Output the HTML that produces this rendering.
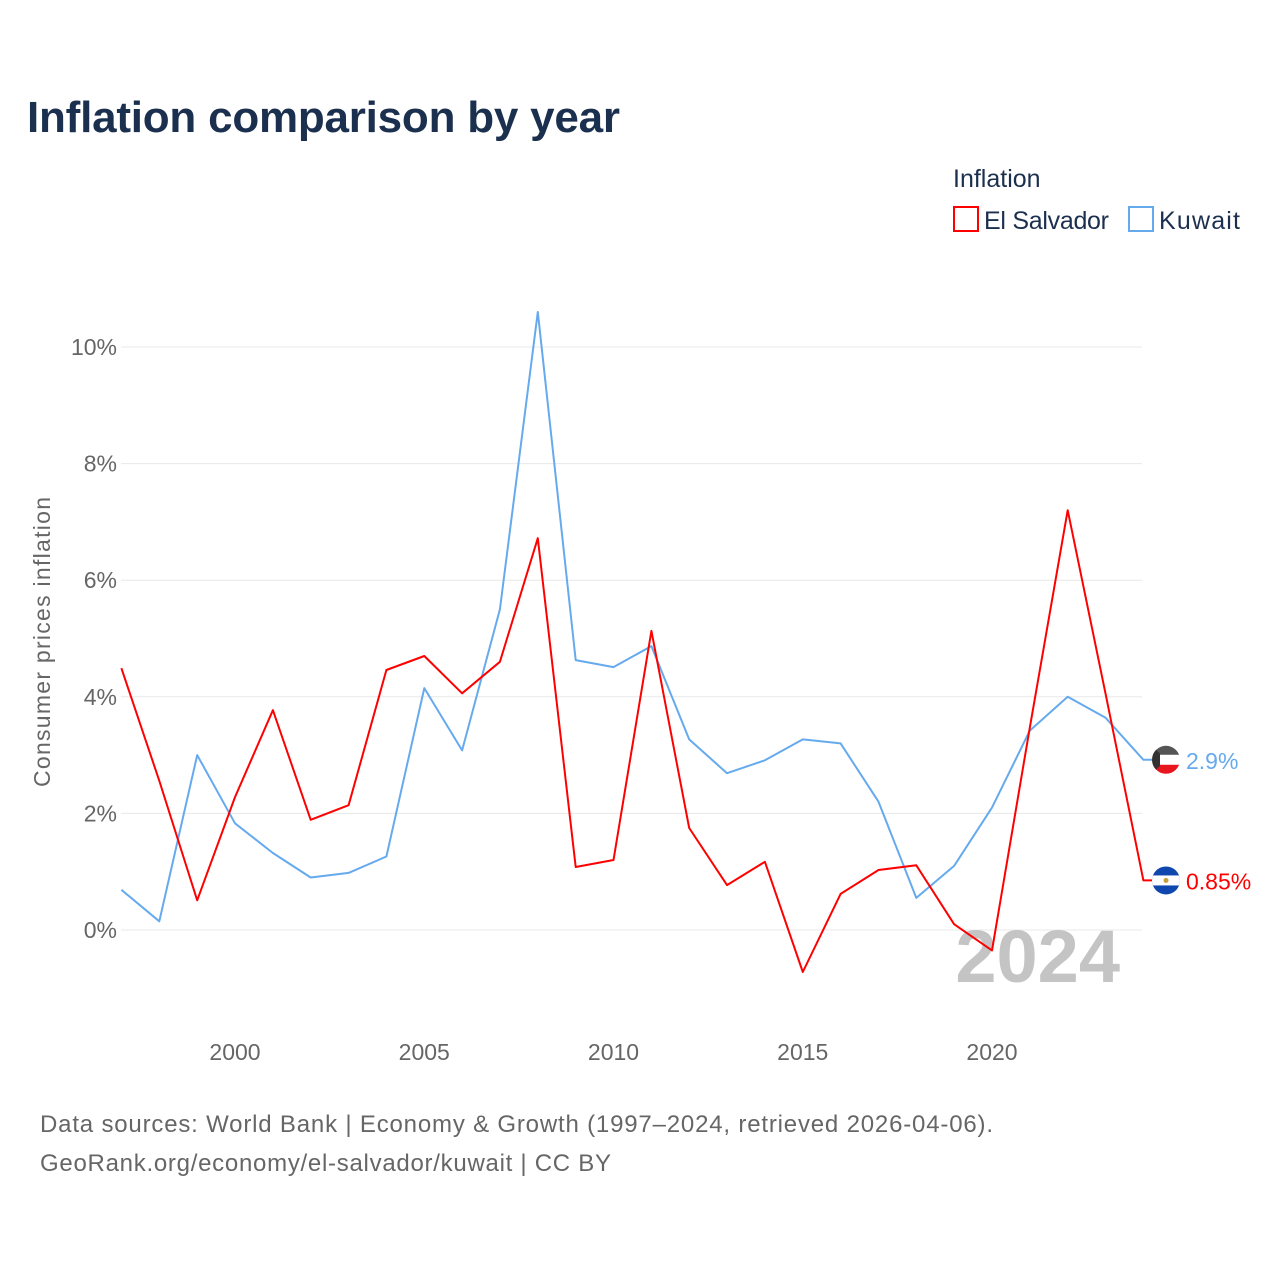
<!DOCTYPE html>
<html><head><meta charset="utf-8">
<style>
body{margin:0;background:#fff;font-family:"Liberation Sans",sans-serif;}
#wrap{position:relative;width:1280px;height:1280px;overflow:hidden;}
</style></head>
<body>
<div id="wrap">
<svg id="chart" width="1280" height="1280">
<defs>
<clipPath id="fk"><circle cx="1166" cy="760" r="14"/></clipPath>
<clipPath id="fs"><circle cx="1166" cy="880" r="14"/></clipPath>
</defs>
<text x="27" y="132" font-size="44" font-weight="bold" fill="#1b2f4e" textLength="593">Inflation comparison by year</text>
<text x="953" y="187" font-size="25" fill="#1b2f4e">Inflation</text>
<g>
<rect x="954" y="207" width="24" height="24" fill="none" stroke="#ff0000" stroke-width="2"/>
<text x="984" y="229" font-size="25" fill="#1b2f4e" textLength="125">El Salvador</text></g>
<g>
<rect x="1129" y="207" width="24" height="24" fill="none" stroke="#66aaee" stroke-width="2"/>
<text x="1159" y="229" font-size="25" fill="#1b2f4e" textLength="81">Kuwait</text></g>
<g id="grid"></g>
<text transform="translate(50,642) rotate(-90)" text-anchor="middle" font-size="23" fill="#666" textLength="290">Consumer prices inflation</text>
<text x="1120" y="982" text-anchor="end" font-size="74" font-weight="bold" fill="#c4c4c4">2024</text>
<g id="series"></g>
<text x="40" y="1132" font-size="24" fill="#666" textLength="953">Data sources: World Bank | Economy &amp; Growth (1997–2024, retrieved 2026-04-06).</text>
<text x="40" y="1171" font-size="24" fill="#666" textLength="571">GeoRank.org/economy/el-salvador/kuwait | CC BY</text>
</svg>
</div>
<script>
const years=[1997,1998,1999,2000,2001,2002,2003,2004,2005,2006,2007,2008,2009,2010,2011,2012,2013,2014,2015,2016,2017,2018,2019,2020,2021,2022,2023,2024];
const elSalvador=[4.49,2.56,0.51,2.28,3.77,1.89,2.14,4.46,4.70,4.06,4.60,6.72,1.08,1.20,5.13,1.75,0.77,1.17,-0.72,0.62,1.03,1.11,0.10,-0.35,3.47,7.20,4.05,0.85];
const kuwait=[0.69,0.15,3.00,1.83,1.32,0.90,0.98,1.26,4.15,3.08,5.50,10.60,4.63,4.51,4.87,3.27,2.69,2.91,3.27,3.20,2.20,0.55,1.10,2.10,3.42,4.00,3.64,2.92];
const yTicks=[0,2,4,6,8,10];
const xTicks=[2000,2005,2010,2015,2020];
const NS="http://www.w3.org/2000/svg";
const X=y=>235+(y-2000)*37.85;
const Y=v=>930-v*58.3;
const grid=document.getElementById('grid');
function mk(tag,attrs,parent,text){const e=document.createElementNS(NS,tag);for(const k in attrs)e.setAttribute(k,attrs[k]);if(text!==undefined)e.textContent=text;parent.appendChild(e);return e;}
yTicks.forEach(t=>{
  const l=mk('line',{x1:121,x2:1142,y1:Y(t),y2:Y(t),stroke:'#e8e8e8','stroke-width':1},grid);
  
  
  const tx=mk('text',{x:117,y:Y(t)+8,'text-anchor':'end','font-size':23,fill:'#666'},grid,t+'%');
  
  
});
xTicks.forEach(t=>{
  const tx=mk('text',{x:X(t),y:1060,'text-anchor':'middle','font-size':23,fill:'#666'},grid,String(t));
  
  
});
const s=document.getElementById('series');
function line(vals,color,name,label){
  let d=vals.map((v,i)=>(i?'L':'M')+X(years[i]).toFixed(1)+','+Y(v).toFixed(1)).join('');
  const ly=Y(vals[vals.length-1]);
  d+='L1152,'+ly.toFixed(1);
  const p=mk('path',{d:d,fill:'none',stroke:color,'stroke-width':2,'stroke-linejoin':'round'},s);
  
  
  const g=mk('g',{transform:'translate(0,'+(ly-(name==='kuwait'?760:880))+')'},s);
  
  
  if(name==='kuwait'){
    const f=mk('g',{'clip-path':'url(#fk)'},g);
    mk('rect',{x:1150,y:744,width:34,height:32,fill:'#fff'},f);
    mk('rect',{x:1150,y:744,width:34,height:11,fill:'#555'},f);
    mk('rect',{x:1150,y:765,width:34,height:11,fill:'#e8141e'},f);
    mk('polygon',{points:'1150,744 1160,754 1160,766 1150,776',fill:'#333'},f);
  } else {
    const f=mk('g',{'clip-path':'url(#fs)'},g);
    mk('rect',{x:1150,y:864,width:34,height:32,fill:'#0f47af'},f);
    mk('rect',{x:1150,y:875,width:34,height:10,fill:'#fff'},f);
    mk('circle',{cx:1166,cy:880,r:2.5,fill:'#c8a040'},f);
  }
  const t=mk('text',{x:1186,y:ly+9,'font-size':23,fill:color},s,label);
  
  
}
line(kuwait,'#66aaee','kuwait','2.9%');
line(elSalvador,'#ff0000','el-salvador','0.85%');
</script>
</body></html>
